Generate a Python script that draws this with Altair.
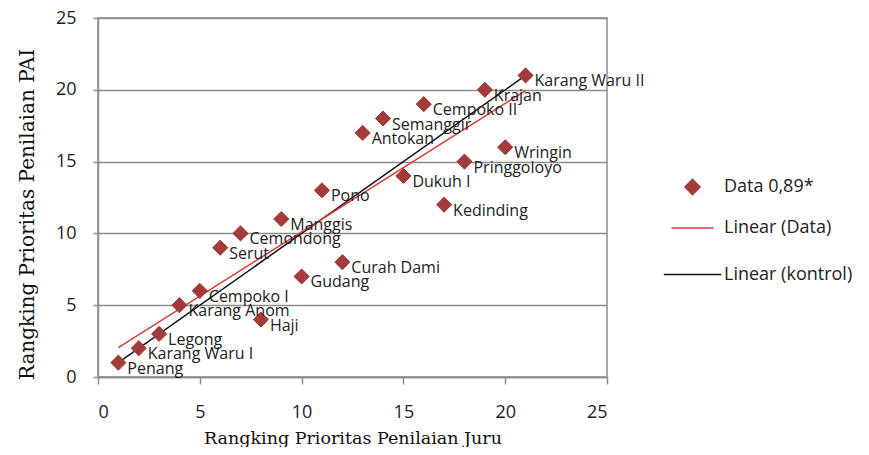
import altair as alt
import pandas as pd

# ---- data ----
desa = ["Penang", "Karang Waru I", "Legong", "Karang Anom", "Cempoko I", "Serut",
        "Cemondong", "Haji", "Manggis", "Gudang", "Pono", "Curah Dami", "Antokan",
        "Semanggir", "Dukuh I", "Cempoko II", "Kedinding", "Pringgoloyo", "Krajan",
        "Wringin", "Karang Waru II"]
rank_juru = [1, 2, 3, 4, 5, 6, 7, 8, 9, 10, 11, 12, 13, 14, 15, 16, 17, 18, 19, 20, 21]
rank_pai = [1, 2, 3, 5, 6, 9, 10, 4, 11, 7, 13, 8, 17, 18, 14, 19, 12, 15, 20, 16, 21]
# control: perfect agreement (PAI rank equals Juru rank)
kontrol_pai = [1, 2, 3, 4, 5, 6, 7, 8, 9, 10, 11, 12, 13, 14, 15, 16, 17, 18, 19, 20, 21]

series_names = ["Data 0,89*", "Linear (Data)", "Linear (kontrol)"]
series_colors = ["#A33B3B", "#E03A3A", "#111111"]
series_shapes = ["diamond", "stroke", "stroke"]
series_sizes = [230, 3300, 3300]
axis_ticks = [0, 5, 10, 15, 20, 25]

df = pd.DataFrame({"desa": desa, "juru": rank_juru, "pai": rank_pai,
                   "series": series_names[0]})
df_k = pd.DataFrame({"juru": rank_juru, "pai": kontrol_pai})

color_scale = alt.Scale(domain=series_names, range=series_colors)
shape_scale = alt.Scale(domain=series_names, range=series_shapes)
size_scale = alt.Scale(domain=series_names, range=series_sizes)

legend = alt.Legend(
    title=None, orient="none", legendX=565, legendY=160, padding=0,
    labelFont="Open Sans", labelFontSize=18, labelColor="#222222",
    symbolStrokeWidth=1.5, symbolOpacity=1, labelOffset=2, rowPadding=8,
)

x_enc = alt.X("juru:Q", scale=alt.Scale(domain=[0, 25], nice=False),
              axis=alt.Axis(values=axis_ticks, title="Rangking Prioritas Penilaian Juru",
                            grid=False, tickSize=7, labelPadding=19,
                            titleFont="DejaVu Serif", titleFontSize=17.5,
                            titleFontWeight="normal", titleColor="#111111",
                            titlePadding=8))
y_enc = alt.Y("pai:Q", scale=alt.Scale(domain=[0, 25], nice=False),
              axis=alt.Axis(values=axis_ticks, title="Rangking Prioritas Penilaian PAI",
                            grid=True, gridColor="#8c8c8c", gridWidth=1.5,
                            tickSize=5, labelPadding=17,
                            titleFont="DejaVu Serif", titleFontSize=20,
                            titleFontWeight="normal", titleColor="#111111",
                            titleY=196, titleX=-61))

base = alt.Chart(df)

points = base.mark_point(filled=False, opacity=1, strokeWidth=1).encode(
    x=x_enc, y=y_enc,
    color=alt.Color("series:N", scale=color_scale, legend=legend),
    fill=alt.Fill("series:N", scale=color_scale, legend=legend),
    shape=alt.Shape("series:N", scale=shape_scale, legend=legend),
    size=alt.Size("series:N", scale=size_scale, legend=legend),
)

labels = base.mark_text(align="left", baseline="middle", dx=9, dy=6,
                        font="Open Sans", fontSize=16, color="#222222").encode(
    x="juru:Q", y="pai:Q", text="desa:N")

fit_data = base.transform_regression("juru", "pai", extent=[1, 21]).transform_calculate(
    series="'Linear (Data)'").mark_line(strokeWidth=1.5).encode(
    x="juru:Q", y="pai:Q",
    color=alt.Color("series:N", scale=color_scale, legend=legend))

fit_kontrol = alt.Chart(df_k).transform_regression("juru", "pai", extent=[1, 21]).transform_calculate(
    series="'Linear (kontrol)'").mark_line(strokeWidth=1.5).encode(
    x="juru:Q", y="pai:Q",
    color=alt.Color("series:N", scale=color_scale, legend=legend))

chart = alt.layer(fit_kontrol, fit_data, points, labels).properties(
    width=509, height=359,
    autosize=alt.AutoSizeParams(type="none"),
    padding={"left": 90, "top": 10, "right": 254, "bottom": 70},
).configure_view(stroke="#8c8c8c", strokeWidth=1.5).configure_axis(
    domainColor="#8c8c8c", domainWidth=1.5, tickColor="#8c8c8c", tickWidth=1.5,
    labelFont="Open Sans", labelFontSize=18, labelColor="#222222",
)

chart.save("out.html", embed_options={"renderer": "svg", "actions": False})
